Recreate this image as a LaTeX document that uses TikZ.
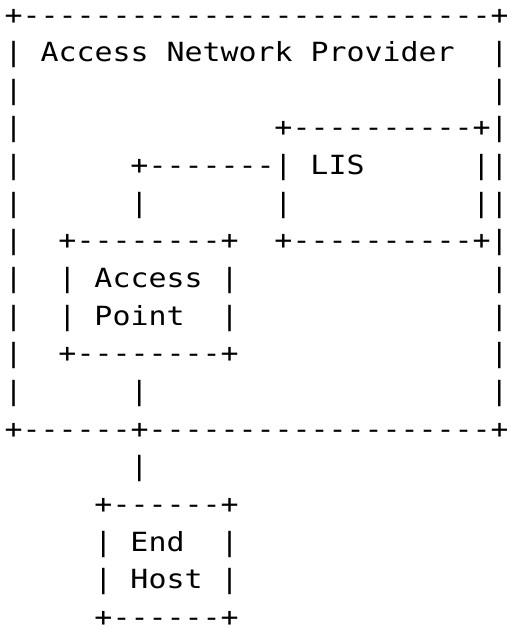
\documentclass[tikz,border=0pt]{standalone}
\usepackage{fontspec}
\setmonofont[FakeStretch=1.133]{DejaVu Sans Mono}
\usepackage{tikz}

\begin{document}
\begin{tikzpicture}
		[
			x=9pt, y=-18.83pt,
			ascii/.style={anchor=base west, inner sep=0pt, outer sep=0pt,
				font=\ttfamily\fontsize{13.2pt}{18.83pt}\selectfont,
				xshift=2.25pt, yshift=6.83pt}
		]
		\useasboundingbox (0pt,0pt) rectangle (253.5pt,-314.5pt);

		% access network provider
		\node[ascii] (anpTop)   at (  0,  1 ) {+--------------------------+};
		\node[ascii] (anpTitle) at (  2,  2 ) {Access Network Provider};
		\node[ascii] (anpBot)   at (  0, 12 ) {+------+-------------------+};
		\foreach \r in {2,...,11}
		{
			\node[ascii] (anpL\r) at (  0, \r ) {|};
			\node[ascii] (anpR\r) at ( 27, \r ) {|};
		}

		% LIS
		\node[ascii] (lisTop)  at ( 15,  4 ) {+----------+};
		\node[ascii] (lisName) at ( 17,  5 ) {LIS};
		\node[ascii] (lisBot)  at ( 15,  7 ) {+----------+};
		\foreach \r in {5,6}
		{
			\node[ascii] (lisL\r) at ( 15, \r ) {|};
			\node[ascii] (lisR\r) at ( 26, \r ) {|};
		}

		% access point
		\node[ascii] (apTop)   at (  3,  7 ) {+--------+};
		\node[ascii] (apName)  at (  5,  8 ) {Access};
		\node[ascii] (apName2) at (  5,  9 ) {Point};
		\node[ascii] (apBot)   at (  3, 10 ) {+--------+};
		\foreach \r in {8,9}
		{
			\node[ascii] (apL\r) at (  3, \r ) {|};
			\node[ascii] (apR\r) at ( 12, \r ) {|};
		}

		% end host
		\node[ascii] (ehTop)   at (  5, 14 ) {+------+};
		\node[ascii] (ehName)  at (  7, 15 ) {End};
		\node[ascii] (ehName2) at (  7, 16 ) {Host};
		\node[ascii] (ehBot)   at (  5, 17 ) {+------+};
		\foreach \r in {15,16}
		{
			\node[ascii] (ehL\r) at (  5, \r ) {|};
			\node[ascii] (ehR\r) at ( 12, \r ) {|};
		}

		% links
		\node[ascii] (apLis)  at (  7,  5 ) {+-------};
		\node[ascii] (apLis2) at (  7,  6 ) {|};
		\node[ascii] (apAnp)  at (  7, 11 ) {|};
		\node[ascii] (anpEh)  at (  7, 13 ) {|};

	\end{tikzpicture}
\end{document}
